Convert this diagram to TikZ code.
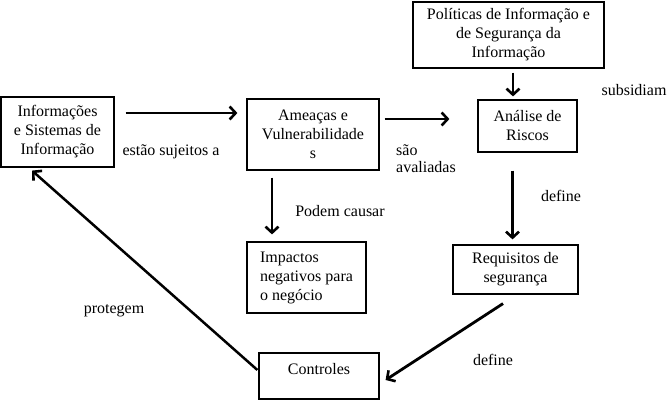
\documentclass[tikz,border=0pt]{standalone}
\usepackage{fontspec}
\setmainfont{Liberation Serif}
\usetikzlibrary{arrows.meta}

\begin{document}
\begin{tikzpicture}[x=1pt,y=1pt,
		font=\fontsize{16}{19}\selectfont,
		caixa/.style={draw,line width=1.2pt,inner sep=2pt,align=center},
		seta/.style={line width=2.8pt,-{Straight Barb[length=6pt,width=13pt,line width=2.6pt]}},
		rotulo/.style={inner sep=0pt}]
		\useasboundingbox (0,0) rectangle (672,405);
		\node[caixa,minimum width=113,minimum height=70] (info) at (57.5,273) {Informações\\e Sistemas de\\Informação};
		\node[caixa,minimum width=132,minimum height=71] (ameacas) at (313,270.5) {Ameaças e\\Vulnerabilidade\\s};
		\node[caixa,minimum width=191,minimum height=66] (politicas) at (508.5,370) {Políticas de Informação e\\de Segurança da\\Informação};
		\node[caixa,minimum width=99,minimum height=52] (analise) at (527.5,279) {Análise de\\Riscos};
		\node[caixa,align=left,minimum width=119,minimum height=71] (impactos) at (306.5,127.5) {Impactos\\negativos para\\o negócio};
		\node[caixa,minimum width=125,minimum height=49] (requisitos) at (515.5,135.5) {Requisitos de\\segurança};
		\node[caixa,minimum width=120,minimum height=46,text height=10,text depth=14] (controles) at (319,29) {Controles};
		\draw[seta,shorten <=11pt,shorten >=9pt] ([yshift=19]info.east) -- ([yshift=21.5]ameacas.west);
		\draw[seta,shorten <=5pt,shorten >=28pt] ([yshift=15.5]ameacas.east) -- ([yshift=7]analise.west);
		\draw[seta,shorten <=4pt,shorten >=3pt] ([xshift=4.5]politicas.south) -- ([xshift=-14.5]analise.north);
		\draw[seta,shorten <=18pt,shorten >=5pt] ([xshift=-15]analise.south) -- ([xshift=-3]requisitos.north);
		\draw[seta,shorten <=7pt,shorten >=7pt] ([xshift=-41]ameacas.south) -- ([xshift=-34.5]impactos.north);
		\draw[seta] ([xshift=-12.5,yshift=-9]requisitos.south) -- ([xshift=6,yshift=-4]controles.east);
		\draw[seta,line width=2.5pt] ([xshift=-1,yshift=6]controles.west) -- ([xshift=-25.5,yshift=-3]info.south);
		\node[rotulo] (sujeitos) at (171,253) {estão sujeitos a};
		\node[rotulo,anchor=west,align=left,font=\fontsize{16}{17.5}\selectfont] (avaliadas) at (396,246.5) {são\\avaliadas};
		\node[rotulo] (subsidiam) at (634,315) {subsidiam};
		\node[rotulo] (define1) at (561,209) {define};
		\node[rotulo] (causar) at (340,194) {Podem causar};
		\node[rotulo] (protegem) at (114,94) {protegem};
		\node[rotulo] (define2) at (493,45) {define};
\end{tikzpicture}
\end{document}
